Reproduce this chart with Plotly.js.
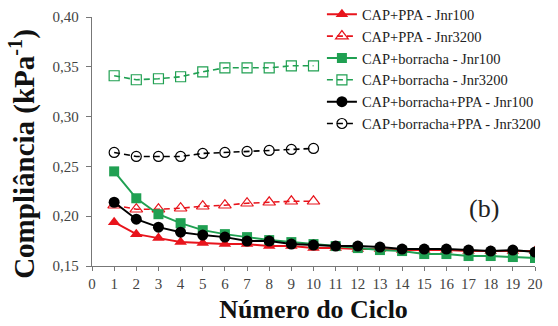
<!DOCTYPE html>
<html>
<head>
<meta charset="utf-8">
<script src="https://cdn.plot.ly/plotly-3.0.1.min.js"></script>
<style>
  html, body { margin: 0; padding: 0; background: #fff; }
  #chart { width: 558px; height: 326px; }
</style>
</head>
<body>
<div id="chart"></div>
<script>
// Cycle numbers
const ciclos20 = [1,2,3,4,5,6,7,8,9,10,11,12,13,14,15,16,17,18,19,20];
const ciclos10 = [1,2,3,4,5,6,7,8,9,10];

// Compliance (kPa^-1) per binder and stress level
const ppaJnr100 = [0.194,0.182,0.178,0.174,0.173,0.172,0.172,0.170,0.170,0.168,0.168,0.167,0.167,0.166,0.166,0.166,0.165,0.165,0.165,0.165];
const ppaJnr3200 = [0.211,0.207,0.207,0.208,0.210,0.211,0.213,0.214,0.215,0.215];
const borrJnr100 = [0.245,0.218,0.202,0.193,0.186,0.182,0.179,0.176,0.174,0.172,0.170,0.168,0.166,0.165,0.162,0.162,0.160,0.160,0.159,0.158];
const borrJnr3200 = [0.341,0.337,0.338,0.340,0.345,0.349,0.349,0.349,0.351,0.351];
const borrPpaJnr100 = [0.214,0.197,0.189,0.184,0.181,0.179,0.175,0.175,0.172,0.171,0.170,0.170,0.169,0.167,0.167,0.167,0.166,0.165,0.166,0.164];
const borrPpaJnr3200 = [0.264,0.260,0.260,0.260,0.263,0.264,0.265,0.266,0.267,0.268];

const nomes = [
  'CAP+PPA - Jnr100',
  'CAP+PPA - Jnr3200',
  'CAP+borracha - Jnr100',
  'CAP+borracha - Jnr3200',
  'CAP+borracha+PPA - Jnr100',
  'CAP+borracha+PPA - Jnr3200'
];
const xTicks = [0,1,2,3,4,5,6,7,8,9,10,11,12,13,14,15,16,17,18,19,20];
const yTicks = [0.15,0.20,0.25,0.30,0.35,0.40];
const tituloY = '<b>Compliância (kPa<sup>-1</sup>)</b>';
const tituloX = '<b>Número do Ciclo</b>';

const RED = '#e8141c', GREEN = '#20a052', BLACK = '#000000';
const serif = '"Liberation Serif", "Times New Roman", serif';

function cheia(x, y, name, color, symbol, size) {
  return { x, y, name, type: 'scatter', mode: 'lines+markers',
    line: { color, width: 2 },
    marker: { color, symbol, size } };
}
function aberta(x, y, name, color, symbol, size) {
  return { x, y, name, type: 'scatter', mode: 'lines+markers',
    line: { color, width: 1.6, dash: '6px,4px' },
    marker: { color, symbol, size, line: { color, width: 1.2 } } };
}

const data = [
  cheia(ciclos20, ppaJnr100, nomes[0], RED, 'triangle-up', 11),
  aberta(ciclos10, ppaJnr3200, nomes[1], RED, 'triangle-up-open', 11),
  cheia(ciclos20, borrJnr100, nomes[2], GREEN, 'square', 10),
  aberta(ciclos10, borrJnr3200, nomes[3], GREEN, 'square-open', 10),
  cheia(ciclos20, borrPpaJnr100, nomes[4], BLACK, 'circle', 11),
  aberta(ciclos10, borrPpaJnr3200, nomes[5], BLACK, 'circle-open', 10)
];

const layout = {
  width: 558, height: 326,
  margin: { l: 92, r: 23, t: 17, b: 60, autoexpand: false },
  paper_bgcolor: '#fff', plot_bgcolor: '#fff',
  separators: ', ',
  font: { family: serif, color: '#333' },
  showlegend: true,
  legend: {
    x: 0.519, xanchor: 'left', y: 1.075, yanchor: 'top',
    bgcolor: 'rgba(255,255,255,0)',
    font: { family: serif, size: 14.5, color: '#222' },
    itemwidth: 30, tracegroupgap: 0
  },
  xaxis: {
    range: [0, 20], tickmode: 'array', tickvals: xTicks,
    showgrid: false, zeroline: false,
    showline: true, linecolor: '#777', linewidth: 1.2,
    ticks: 'outside', ticklen: 4, tickcolor: '#777',
    tickfont: { family: serif, size: 15, color: '#444' },
    title: { text: tituloX, font: { family: serif, size: 26, color: '#111' }, standoff: 8 }
  },
  yaxis: {
    range: [0.15, 0.40], tickmode: 'array', tickvals: yTicks,
    tickformat: '.2f',
    showgrid: false, zeroline: false,
    showline: true, linecolor: '#777', linewidth: 1.2,
    ticks: 'outside', ticklen: 5, tickcolor: '#777',
    ticklabelstandoff: 4,
    tickfont: { family: serif, size: 15, color: '#444' }
  },
  annotations: [
    {
      // vertical axis label, set slightly below the plot centre
      text: tituloY, xref: 'paper', yref: 'paper', x: -0.156, y: 0.45,
      textangle: -90, showarrow: false, xanchor: 'center', yanchor: 'middle',
      font: { family: serif, size: 29, color: '#111' }
    },
    {
      text: '(b)', xref: 'x', yref: 'y', x: 17.7, y: 0.208,
      showarrow: false, font: { family: serif, size: 26, color: '#222' }
    }
  ]
};

Plotly.newPlot('chart', data, layout, { displayModeBar: false, staticPlot: true });
</script>
</body>
</html>
